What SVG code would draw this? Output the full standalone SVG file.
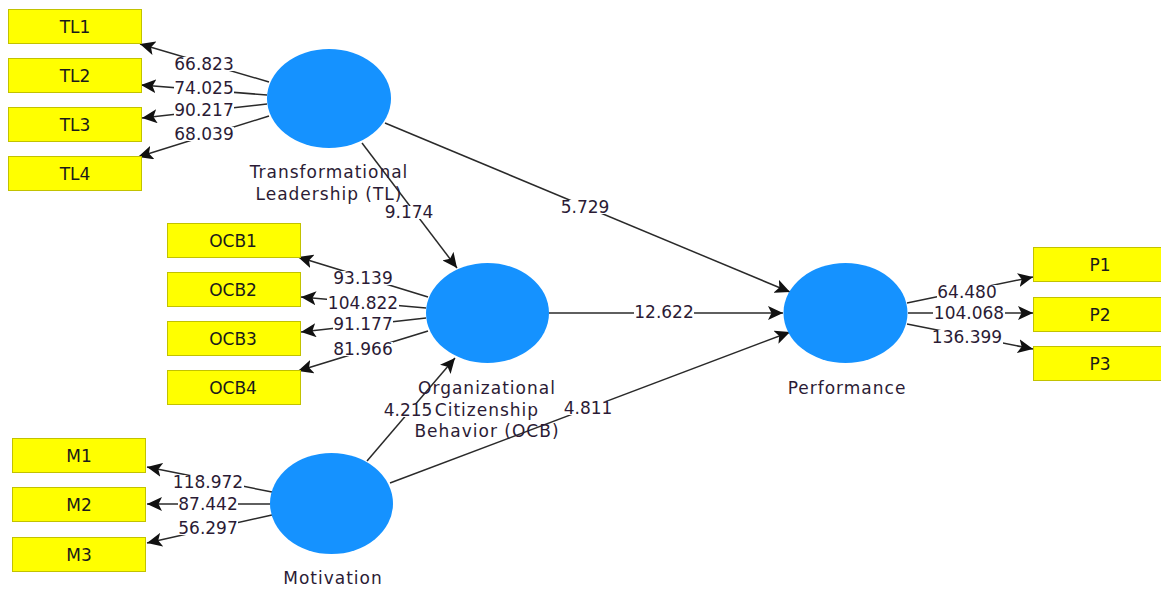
<svg xmlns="http://www.w3.org/2000/svg" width="1161" height="590" viewBox="0 0 1161 590">
<defs>
<marker id="ah" markerUnits="userSpaceOnUse" markerWidth="16" markerHeight="14" refX="15" refY="7" orient="auto">
<path d="M0,0 L15,7 L0,14 L3.5,7 z" fill="#111"/>
</marker>
<style>
.box{fill:#ffff00;stroke:#c2c200;stroke-width:1}
.lv{fill:#1592ff}
.bt{font-family:"DejaVu Sans",Verdana,sans-serif;font-size:17px;fill:#1a1a1a;text-anchor:middle}
.lt{font-family:"DejaVu Sans",Verdana,sans-serif;font-size:17px;letter-spacing:1px;fill:#2b1b35;text-anchor:middle}
.ln{stroke:#2a2a2a;stroke-width:1.5;fill:none;marker-end:url(#ah)}
.nb{fill:#fff}
.nt{font-family:"DejaVu Sans",Verdana,sans-serif;font-size:17px;fill:#2b1b35;text-anchor:middle}
</style>
</defs>
<rect width="1161" height="590" fill="#fff"/>

<g id="connectors">
<line class="ln" x1="269" y1="82" x2="140" y2="44"/>
<line class="ln" x1="267" y1="95" x2="141" y2="85"/>
<line class="ln" x1="267" y1="104" x2="142" y2="118"/>
<line class="ln" x1="269" y1="116" x2="138" y2="157"/>
<line class="ln" x1="428" y1="297" x2="298" y2="257"/>
<line class="ln" x1="426" y1="308" x2="301" y2="297"/>
<line class="ln" x1="426" y1="318" x2="301" y2="332"/>
<line class="ln" x1="428" y1="331" x2="298" y2="371"/>
<line class="ln" x1="272" y1="492" x2="147" y2="467"/>
<line class="ln" x1="270" y1="504" x2="147" y2="504"/>
<line class="ln" x1="272" y1="515" x2="147" y2="543"/>
<line class="ln" x1="907" y1="303" x2="1033" y2="277"/>
<line class="ln" x1="908" y1="313" x2="1033" y2="313"/>
<line class="ln" x1="907" y1="324" x2="1033" y2="349"/>
<line class="ln" x1="362" y1="143" x2="457" y2="268"/>
<line class="ln" x1="385" y1="123" x2="790" y2="292"/>
<line class="ln" x1="549" y1="313" x2="783" y2="313"/>
<line class="ln" x1="367" y1="461" x2="455" y2="358"/>
<line class="ln" x1="390" y1="483" x2="790" y2="332"/>

<g id="numlabels">
<rect class="nb" x="174" y="57" width="60" height="14"/><text class="nt" x="204" y="70">66.823</text>
<rect class="nb" x="174" y="81" width="60" height="14"/><text class="nt" x="204" y="94">74.025</text>
<rect class="nb" x="174" y="103" width="60" height="14"/><text class="nt" x="204" y="116">90.217</text>
<rect class="nb" x="174" y="127" width="60" height="14"/><text class="nt" x="204" y="140">68.039</text>
<rect class="nb" x="333" y="271" width="60" height="14"/><text class="nt" x="363" y="284">93.139</text>
<rect class="nb" x="327" y="296" width="72" height="14"/><text class="nt" x="363" y="309">104.822</text>
<rect class="nb" x="333" y="317" width="60" height="14"/><text class="nt" x="363" y="330">91.177</text>
<rect class="nb" x="333" y="342" width="60" height="14"/><text class="nt" x="363" y="355">81.966</text>
<rect class="nb" x="172" y="475" width="72" height="14"/><text class="nt" x="208" y="488">118.972</text>
<rect class="nb" x="178" y="497" width="60" height="14"/><text class="nt" x="208" y="510">87.442</text>
<rect class="nb" x="178" y="521" width="60" height="14"/><text class="nt" x="208" y="534">56.297</text>
<rect class="nb" x="937" y="285" width="60" height="14"/><text class="nt" x="967" y="298">64.480</text>
<rect class="nb" x="933" y="306" width="72" height="14"/><text class="nt" x="969" y="319">104.068</text>
<rect class="nb" x="931" y="330" width="72" height="14"/><text class="nt" x="967" y="343">136.399</text>
<rect class="nb" x="385" y="206" width="48" height="13"/><text class="nt" x="409" y="218">9.174</text>
<rect class="nb" x="561" y="200" width="48" height="14"/><text class="nt" x="585" y="213">5.729</text>
<rect class="nb" x="634" y="305" width="60" height="14"/><text class="nt" x="664" y="318">12.622</text>
<rect class="nb" x="384" y="403" width="48" height="14"/><text class="nt" x="408" y="416">4.215</text>
<rect class="nb" x="564" y="401" width="48" height="14"/><text class="nt" x="588" y="414">4.811</text>
</g>
</g>

<g id="TL1"><rect class="box" x="8.5" y="9.5" width="133" height="34"/><text class="bt" x="75" y="32.5">TL1</text></g>
<g id="TL2"><rect class="box" x="8.5" y="58.5" width="133" height="34"/><text class="bt" x="75" y="81.5">TL2</text></g>
<g id="TL3"><rect class="box" x="8.5" y="107.5" width="133" height="34"/><text class="bt" x="75" y="130.5">TL3</text></g>
<g id="TL4"><rect class="box" x="8.5" y="156.5" width="133" height="34"/><text class="bt" x="75" y="179.5">TL4</text></g>

<g id="OCB1"><rect class="box" x="167.5" y="223.5" width="133" height="34"/><text class="bt" x="233" y="246.5">OCB1</text></g>
<g id="OCB2"><rect class="box" x="167.5" y="272.5" width="133" height="34"/><text class="bt" x="233" y="295.5">OCB2</text></g>
<g id="OCB3"><rect class="box" x="167.5" y="321.5" width="133" height="34"/><text class="bt" x="233" y="344.5">OCB3</text></g>
<g id="OCB4"><rect class="box" x="167.5" y="370.5" width="133" height="34"/><text class="bt" x="233" y="393.5">OCB4</text></g>

<g id="M1"><rect class="box" x="12.5" y="438.5" width="133" height="34"/><text class="bt" x="79" y="461.5">M1</text></g>
<g id="M2"><rect class="box" x="12.5" y="487.5" width="133" height="34"/><text class="bt" x="79" y="510.5">M2</text></g>
<g id="M3"><rect class="box" x="12.5" y="537.5" width="133" height="34"/><text class="bt" x="79" y="560.5">M3</text></g>

<g id="P1"><rect class="box" x="1033.5" y="247.5" width="133" height="34"/><text class="bt" x="1100" y="270.5">P1</text></g>
<g id="P2"><rect class="box" x="1033.5" y="297.5" width="133" height="34"/><text class="bt" x="1100" y="320.5">P2</text></g>
<g id="P3"><rect class="box" x="1033.5" y="346.5" width="133" height="34"/><text class="bt" x="1100" y="369.5">P3</text></g>

<g id="TL">
<ellipse class="lv" cx="329" cy="98.5" rx="62" ry="49.5"/>
<text class="lt" x="329" y="178">Transformational</text>
<text class="lt" x="329" y="200">Leadership (TL)</text>
</g>
<g id="OCB">
<ellipse class="lv" cx="487.5" cy="313" rx="61.5" ry="50"/>
<text class="lt" x="487" y="394">Organizational</text>
<text class="lt" x="487" y="416">Citizenship</text>
<text class="lt" x="487" y="437">Behavior (OCB)</text>
</g>
<g id="Motivation">
<ellipse class="lv" cx="331.5" cy="503.5" rx="61.5" ry="50.5"/>
<text class="lt" x="333" y="584">Motivation</text>
</g>
<g id="Performance">
<ellipse class="lv" cx="845.5" cy="313" rx="62" ry="50"/>
<text class="lt" x="847" y="394">Performance</text>
</g>
</svg>
